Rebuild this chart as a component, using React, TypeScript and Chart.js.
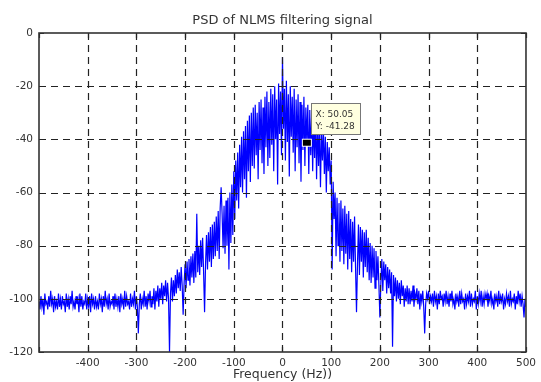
import React, { useEffect, useRef } from 'react';
import { Chart, registerables } from 'chart.js';

Chart.register(...registerables);

const TITLE = 'PSD of NLMS filtering signal';
const X_LABEL = 'Frequency (Hz))';

const X_MIN = -500;
const X_MAX = 500;
const Y_MIN = -120;
const Y_MAX = 0;
const X_TICKS = [-500, -400, -300, -200, -100, 0, 100, 200, 300, 400, 500];
const Y_TICKS = [-120, -100, -80, -60, -40, -20, 0];

// frequency grid of the estimate (Hz)
const FREQ_START = -500;
const FREQ_STEP = 2;

// PSD values (dB), one per frequency bin (20 bins = 40 Hz per row)
const PSD_DB = [
  -101, -104, -99, -103, -100, -106, -98, -102, -101, -104, -99, -103, -97, -102, -100, -105, -99, -103, -101, -104,
  -98, -103, -100, -104, -99, -102, -101, -105, -98, -103, -100, -104, -99, -102, -97, -103, -101, -104, -99, -102,
  -100, -105, -98, -103, -99, -104, -101, -102, -98, -104, -100, -103, -99, -105, -98, -102, -100, -104, -99, -103,
  -101, -104, -98, -102, -100, -105, -99, -103, -97, -102, -100, -104, -98, -103, -101, -102, -99, -104, -98, -103,
  -100, -103, -99, -105, -98, -102, -100, -104, -97, -103, -99, -102, -101, -104, -98, -103, -100, -102, -97, -104,
  -99, -103, -113, -102, -98, -104, -100, -102, -97, -103, -99, -104, -98, -101, -97, -103, -99, -102, -96, -104,
  -97, -101, -95, -103, -96, -100, -94, -102, -95, -99, -93, -101, -94, -100, -120, -98, -92, -101, -93, -99,
  -91, -98, -89, -96, -90, -97, -88, -95, -106, -94, -87, -96, -86, -93, -85, -95, -84, -92, -83, -94,
  -82, -92, -68, -90, -80, -91, -78, -88, -77, -90, -105, -87, -76, -89, -75, -86, -73, -88, -72, -85,
  -71, -84, -69, -82, -67, -85, -66, -58, -68, -81, -65, -83, -63, -80, -62, -89, -60, -79, -57, -76,
  -52, -70, -48, -63, -45, -66, -42, -58, -39, -60, -37, -55, -35, -62, -33, -52, -31, -56, -30, -50,
  -28, -51, -27, -46, -30, -55, -26, -44, -25, -49, -28, -53, -24, -43, -22, -50, -26, -47, -21, -42,
  -23, -52, -20, -40, -25, -57, -19, -38, -22, -46, -9, -36, -21, -48, -18, -41, -23, -54, -20, -39,
  -24, -45, -21, -52, -25, -43, -23, -49, -26, -56, -27, -44, -24, -50, -28, -41, -27, -53, -29, -46,
  -30, -52, -32, -47, -31, -55, -34, -50, -35, -58, -37, -48, -36, -53, -39, -60, -41, -52, -43, -57,
  -48, -89, -56, -70, -60, -84, -62, -80, -64, -86, -63, -82, -66, -87, -65, -83, -68, -89, -67, -85,
  -70, -90, -71, -86, -69, -88, -105, -87, -72, -91, -73, -86, -74, -92, -75, -88, -74, -90, -77, -93,
  -79, -94, -80, -92, -81, -96, -82, -93, -84, -95, -107, -94, -85, -97, -86, -93, -87, -98, -88, -96,
  -89, -98, -90, -118, -91, -99, -92, -101, -93, -100, -94, -102, -93, -99, -95, -103, -96, -101, -95, -102,
  -96, -102, -97, -101, -95, -103, -98, -100, -96, -102, -97, -104, -98, -101, -97, -103, -113, -102, -98, -100,
  -97, -102, -99, -101, -98, -103, -97, -101, -99, -104, -98, -102, -97, -100, -99, -103, -98, -101, -97, -102,
  -99, -103, -98, -101, -97, -102, -100, -104, -98, -101, -99, -103, -97, -102, -98, -101, -100, -104, -98, -102,
  -99, -101, -97, -103, -98, -102, -100, -101, -97, -104, -99, -102, -98, -101, -97, -103, -99, -102, -98, -100,
  -98, -103, -99, -101, -97, -102, -100, -104, -98, -101, -99, -103, -97, -102, -99, -101, -98, -104, -100, -102,
  -98, -101, -99, -103, -97, -102, -100, -101, -98, -104, -99, -102, -97, -101, -98, -103, -99, -102, -107, -100,
  -103,
];

// data tip
const TIP_X = 50.05;
const TIP_Y = -41.28;
const TIP_LINES = ['X: 50.05', 'Y: -41.28'];

const FONT = '"DejaVu Sans", "Liberation Sans", Arial, sans-serif';
const TEXT_COLOR = '#333';

const overlay = {
  id: 'matlabOverlay',
  afterDatasetsDraw(chart: any) {
    const { ctx, chartArea: a, scales } = chart;
    const xs = scales.x;
    const ys = scales.y;
    ctx.save();

    // dashed grid, on top of the trace
    ctx.strokeStyle = '#222';
    ctx.lineWidth = 1.2;
    ctx.setLineDash([7, 5]);
    for (const v of X_TICKS) {
      if (v === X_MIN || v === X_MAX) continue;
      const px = Math.round(xs.getPixelForValue(v)) + 0.5;
      ctx.beginPath();
      ctx.moveTo(px, a.top);
      ctx.lineTo(px, a.bottom);
      ctx.stroke();
    }
    for (const v of Y_TICKS) {
      if (v === Y_MIN || v === Y_MAX) continue;
      const py = Math.round(ys.getPixelForValue(v)) + 0.5;
      ctx.beginPath();
      ctx.moveTo(a.left, py);
      ctx.lineTo(a.right, py);
      ctx.stroke();
    }
    ctx.setLineDash([]);

    // inner tick marks on all four sides
    ctx.lineWidth = 1.2;
    ctx.strokeStyle = '#222';
    const tl = 5;
    for (const v of X_TICKS) {
      const px = Math.round(xs.getPixelForValue(v)) + 0.5;
      ctx.beginPath();
      ctx.moveTo(px, a.bottom);
      ctx.lineTo(px, a.bottom - tl);
      ctx.moveTo(px, a.top);
      ctx.lineTo(px, a.top + tl);
      ctx.stroke();
    }
    for (const v of Y_TICKS) {
      const py = Math.round(ys.getPixelForValue(v)) + 0.5;
      ctx.beginPath();
      ctx.moveTo(a.left, py);
      ctx.lineTo(a.left + tl, py);
      ctx.moveTo(a.right, py);
      ctx.lineTo(a.right - tl, py);
      ctx.stroke();
    }

    // frame
    ctx.lineWidth = 1.6;
    ctx.strokeStyle = '#333';
    ctx.strokeRect(a.left, a.top, a.right - a.left, a.bottom - a.top);

    // data tip marker and box
    const tx = xs.getPixelForValue(TIP_X);
    const ty = ys.getPixelForValue(TIP_Y);
    ctx.fillStyle = '#fff';
    ctx.fillRect(tx - 5, ty - 4, 10, 8);
    ctx.fillStyle = '#000';
    ctx.fillRect(tx - 4, ty - 3, 8, 6);

    const bx = Math.round(tx + 4) + 0.5;
    const by = Math.round(ty - 40) + 0.5;
    const bw = 49;
    const bh = 31;
    ctx.fillStyle = '#ffffe0';
    ctx.fillRect(bx, by, bw, bh);
    ctx.strokeStyle = '#777';
    ctx.lineWidth = 1;
    ctx.strokeRect(bx, by, bw, bh);
    ctx.fillStyle = '#333';
    ctx.font = `9px ${FONT}`;
    ctx.textAlign = 'left';
    ctx.textBaseline = 'alphabetic';
    ctx.fillText(TIP_LINES[0], bx + 4, by + 13);
    ctx.fillText(TIP_LINES[1], bx + 4, by + 25);

    // title, centred over the axes
    ctx.fillStyle = TEXT_COLOR;
    ctx.font = `13px ${FONT}`;
    ctx.textAlign = 'center';
    ctx.fillText(TITLE, (a.left + a.right) / 2, 23.5);

    ctx.restore();
  },
};

export default function App() {
  const ref = useRef<HTMLCanvasElement | null>(null);

  useEffect(() => {
    const canvas = ref.current;
    if (!canvas) return;
    const points = PSD_DB.map((y, i) => ({ x: FREQ_START + i * FREQ_STEP, y }));

    const chart = new Chart(canvas, {
      type: 'line',
      data: {
        datasets: [
          {
            data: points,
            borderColor: '#0000ff',
            borderWidth: 1.2,
            pointRadius: 0,
            tension: 0,
            fill: false,
          },
        ],
      },
      options: {
        responsive: false,
        animation: false,
        layout: { padding: { top: 33, right: 14, left: 0, bottom: 0 } },
        plugins: {
          legend: { display: false },
          tooltip: { enabled: false },
          title: { display: false },
        },
        scales: {
          x: {
            type: 'linear',
            min: X_MIN,
            max: X_MAX,
            afterBuildTicks: (s: any) => {
              s.ticks = X_TICKS.map((v) => ({ value: v }));
            },
            afterFit: (s: any) => {
              s.height = 30;
            },
            grid: { display: false, drawTicks: false },
            border: { display: false },
            ticks: {
              autoSkip: false,
              maxRotation: 0,
              padding: 5,
              color: TEXT_COLOR,
              font: { family: FONT, size: 10.5 },
              callback: (v: any) => (v === X_MIN ? '' : String(v)),
            },
            title: {
              display: true,
              text: X_LABEL,
              color: TEXT_COLOR,
              font: { family: FONT, size: 12.5 },
              padding: { top: 0, bottom: 0 },
            },
          },
          y: {
            type: 'linear',
            min: Y_MIN,
            max: Y_MAX,
            afterBuildTicks: (s: any) => {
              s.ticks = Y_TICKS.map((v) => ({ value: v }));
            },
            afterFit: (s: any) => {
              s.width = 39;
            },
            grid: { display: false, drawTicks: false },
            border: { display: false },
            ticks: {
              autoSkip: false,
              padding: 6,
              color: TEXT_COLOR,
              font: { family: FONT, size: 10.5 },
              callback: (v: any) => String(v),
            },
          },
        },
      },
      plugins: [overlay],
    });

    return () => chart.destroy();
  }, []);

  return (
    <div style={{ position: 'absolute', left: 0, top: 0, width: 541, height: 382, background: '#fff' }}>
      <canvas ref={ref} width={541} height={382} />
    </div>
  );
}
